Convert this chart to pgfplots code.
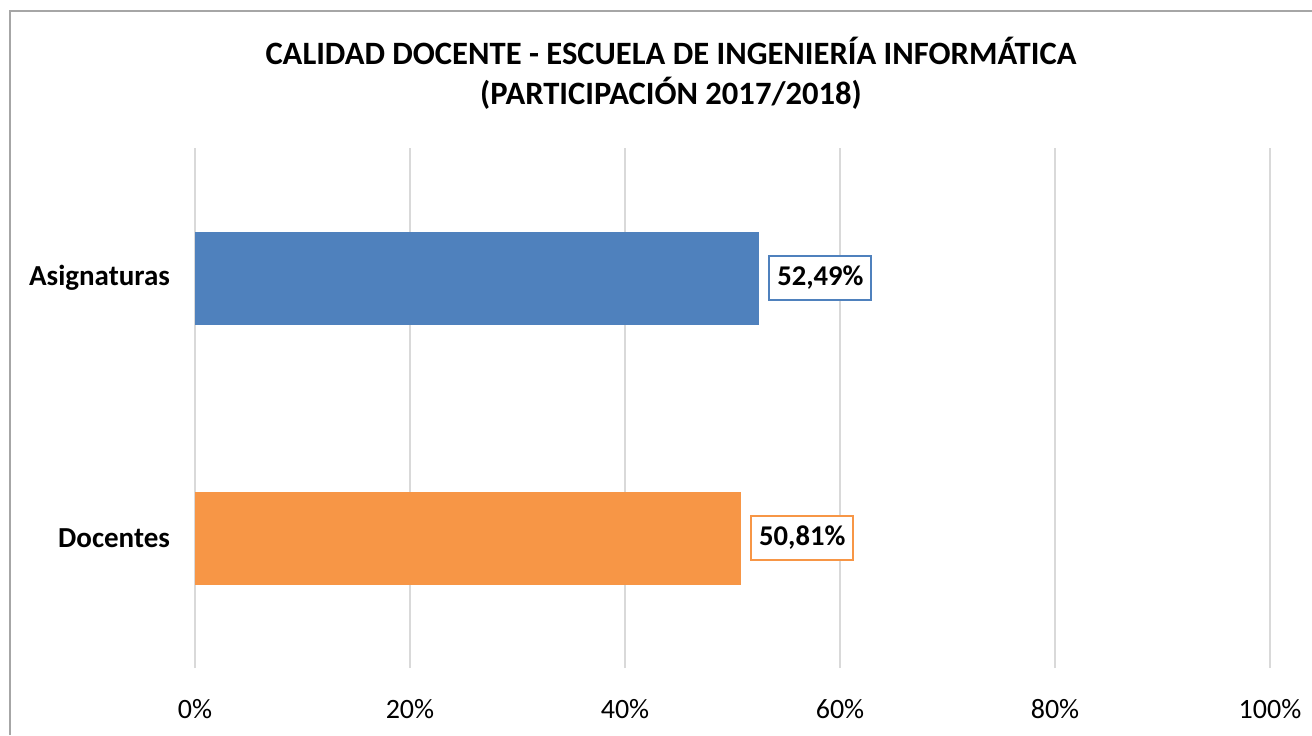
\documentclass[border=0pt]{standalone}
\usepackage{fontspec}
\setmainfont{Carlito}
\usepackage{pgfplots}
\pgfplotsset{compat=1.18}
\definecolor{cblue}{HTML}{4F81BD}
\definecolor{corange}{HTML}{F79646}
\definecolor{cgrid}{HTML}{D9D9D9}
\definecolor{cframe}{HTML}{A6A6A6}
\begin{document}
\begin{tikzpicture}[x=1pt,y=1pt]
\useasboundingbox (0,0) rectangle (656,367.5);
\draw[cframe,line width=1pt] (5,0) -- (5,362) -- (656,362);
\node[font=\fontsize{16.3}{20}\selectfont\bfseries,align=center] at (335.5,331)
  {CALIDAD DOCENTE - ESCUELA DE INGENIERÍA INFORMÁTICA\\(PARTICIPACIÓN 2017/2018)};
\begin{axis}[
  at={(97.5pt,33.5pt)}, anchor=south west,
  scale only axis, width=537.5pt, height=260pt,
  xbar, bar width=46.5pt, bar shift=0pt,
  xmin=0, xmax=100, ymin=-0.5, ymax=1.5,
  xtick={0,20,40,60,80,100},
  xticklabels={0\%,20\%,40\%,60\%,80\%,100\%},
  ytick={0,1}, yticklabels={Docentes,Asignaturas},
  xmajorgrids, grid style={cgrid,line width=0.75pt},
  axis line style={draw=none}, major tick length=0pt,
  tick label style={font=\fontsize{14}{16}\selectfont},
  yticklabel style={font=\fontsize{14.5}{16}\selectfont\bfseries, xshift=-9pt},
  xticklabel style={yshift=-12pt},
  point meta=explicit symbolic,
  nodes near coords,
  every node near coord/.append style={font=\fontsize{14.3}{16}\selectfont\bfseries, anchor=west, xshift=4.5pt, fill=white, inner xsep=4pt, inner ysep=5pt, line width=1pt},
  clip=false,
]
\addplot[draw=none, fill=cblue, every node near coord/.append style={draw=cblue}] coordinates {(52.49,1) [52,49\%]};
\addplot[draw=none, fill=corange, every node near coord/.append style={draw=corange}] coordinates {(50.81,0) [50,81\%]};
\end{axis}
\end{tikzpicture}
\end{document}
